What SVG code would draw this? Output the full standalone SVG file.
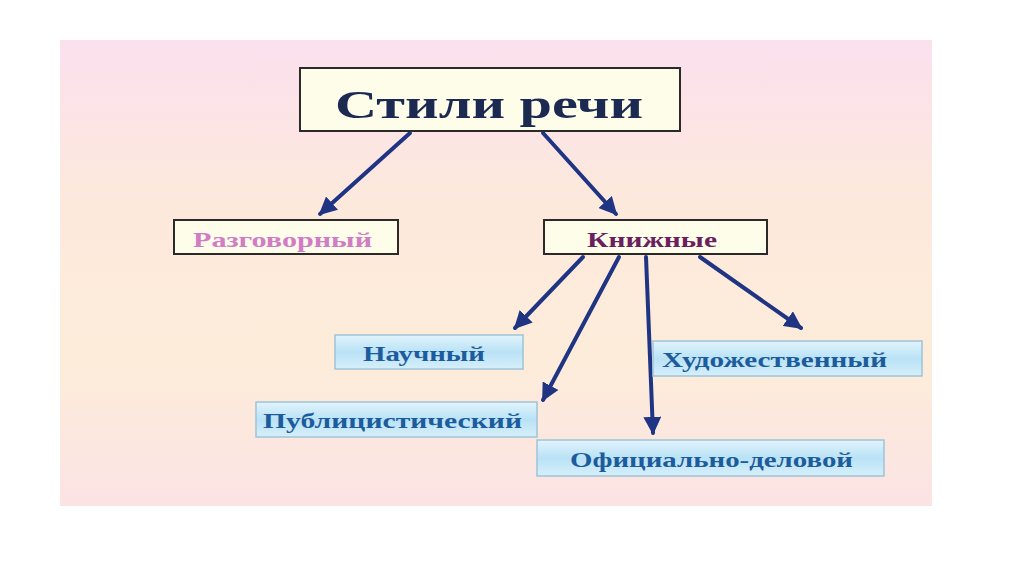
<svg xmlns="http://www.w3.org/2000/svg" width="1024" height="574" viewBox="0 0 1024 574">
<defs>
<linearGradient id="bg" x1="0" y1="0" x2="0" y2="1">
<stop offset="0" stop-color="#fbe0ee"/>
<stop offset="0.35" stop-color="#fde9dc"/>
<stop offset="0.7" stop-color="#fdecda"/>
<stop offset="1" stop-color="#fbe3e4"/>
</linearGradient>
<linearGradient id="blue" x1="0" y1="0" x2="0" y2="1">
<stop offset="0" stop-color="#e2f4fc"/>
<stop offset="0.5" stop-color="#b9e2f6"/>
<stop offset="1" stop-color="#d6effa"/>
</linearGradient>
<marker id="ah" viewBox="0 0 10 10" refX="9" refY="5" markerWidth="4.5" markerHeight="4.5" orient="auto" markerUnits="strokeWidth">
<path d="M0,0 L10,5 L0,10 Z" fill="#1f3584"/>
</marker>
<style>
.dark{fill:#fdfdea;stroke:#2a2a2a;stroke-width:2}
.lb{fill:url(#blue);stroke:#9fc3d8;stroke-width:1.5}
.t{font-family:"Liberation Serif","Times New Roman",serif;font-weight:bold;text-anchor:start}
.bt{fill:#1d5c9c;font-size:22px}
.con{stroke:#1f3584;stroke-width:4;fill:none;marker-end:url(#ah);stroke-linecap:round}
</style>
</defs>
<rect width="1024" height="574" fill="#ffffff"/>
<rect x="60" y="40" width="872" height="466" fill="url(#bg)"/>
<g id="connectors">
<line class="con" x1="410" y1="133" x2="320" y2="214"/>
<line class="con" x1="543" y1="133" x2="616" y2="214"/>
<line class="con" x1="583" y1="257" x2="515" y2="328"/>
<line class="con" x1="619" y1="257" x2="543" y2="400"/>
<line class="con" x1="646" y1="257" x2="653" y2="433"/>
<line class="con" x1="700" y1="257" x2="801" y2="328"/>
</g>
<g id="title">
<rect class="dark" x="300" y="68" width="380" height="63"/>
<text class="t" x="335" y="118" font-size="40" fill="#1c2a52" textLength="308" lengthAdjust="spacingAndGlyphs">Стили речи</text>
</g>
<g id="razgovorny">
<rect class="dark" x="174" y="220" width="224" height="34"/>
<text class="t" x="193" y="247" font-size="22" fill="#d27cc6" textLength="179" lengthAdjust="spacingAndGlyphs">Разговорный</text>
</g>
<g id="knizhnye">
<rect class="dark" x="544" y="220" width="223" height="34"/>
<text class="t" x="587" y="247" font-size="22" fill="#6b1f5e" textLength="130" lengthAdjust="spacingAndGlyphs">Книжные</text>
</g>
<g id="nauchny">
<rect class="lb" x="335" y="335" width="188" height="34"/>
<text class="t bt" x="363" y="361" textLength="122" lengthAdjust="spacingAndGlyphs">Научный</text>
</g>
<g id="hudozhestvenny">
<rect class="lb" x="653" y="341" width="269" height="35"/>
<text class="t bt" x="662" y="367" textLength="225" lengthAdjust="spacingAndGlyphs">Художественный</text>
</g>
<g id="publicistichesky">
<rect class="lb" x="256" y="402" width="281" height="35"/>
<text class="t bt" x="263" y="428" textLength="259" lengthAdjust="spacingAndGlyphs">Публицистический</text>
</g>
<g id="oficialno">
<rect class="lb" x="537" y="440" width="347" height="36"/>
<text class="t bt" x="570" y="467" textLength="283" lengthAdjust="spacingAndGlyphs">Официально-деловой</text>
</g>
</svg>
